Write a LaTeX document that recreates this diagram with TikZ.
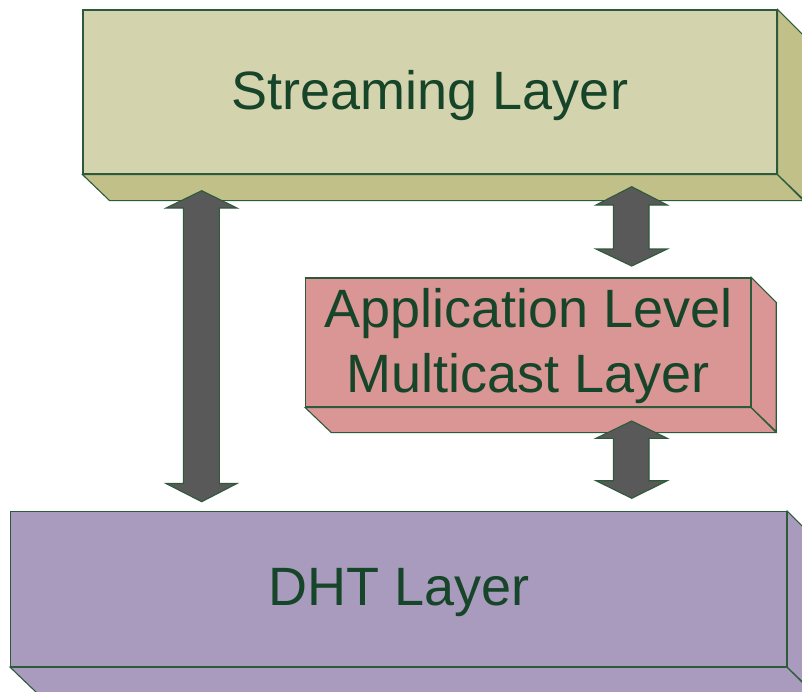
\documentclass[tikz,border=0pt]{standalone}
\usepackage{fontspec}
\setmainfont{Liberation Sans}
\begin{document}
\begin{tikzpicture}[x=1pt,y=-1pt,
  edge/.style={draw=edgegreen,line width=1.1pt,line join=miter},
  face/.style={edge,rectangle,inner sep=0pt},
  label/.style={font=\fontsize{54}{65}\selectfont,text=textgreen,align=center,inner sep=0pt},
  blockarrow/.style={edge,fill=arrowgray}]
\definecolor{edgegreen}{HTML}{2E5A3C}
\definecolor{textgreen}{HTML}{17452A}
\definecolor{arrowgray}{HTML}{595959}
\definecolor{strfront}{HTML}{D3D3AD}
\definecolor{strside}{HTML}{C0C088}
\definecolor{appfront}{HTML}{D99694}
\definecolor{appside}{HTML}{D99694}
\definecolor{dhtfront}{HTML}{A99BBD}
\definecolor{dhtside}{HTML}{A99BBD}
\useasboundingbox (0,0) rectangle (802,691);
\clip (0,0) rectangle (802,691);
% Streaming layer
\node[face,fill=strfront,minimum width=694pt,minimum height=164pt] (stream) at (430,92) {};
\node[label] (streamtext) at ([yshift=-4pt]stream.center) {Streaming Layer};
\draw[edge,fill=strside] (stream.south west) -- (stream.south east) -- ++(26,26) -- ++(-694,0) -- cycle;
\draw[edge,fill=strside] (stream.north east) -- ++(26,26) -- ++(0,164) -- (stream.south east) -- cycle;
% Application layer
\node[face,fill=appfront,minimum width=445pt,minimum height=129pt] (app) at (528.2,342.5) {};
\node[label] (apptext) at ([yshift=-4pt]app.center) {Application Level\\Multicast Layer};
\draw[edge,fill=appside] (app.south west) -- (app.south east) -- ++(25,25) -- ++(-445,0) -- cycle;
\draw[edge,fill=appside] (app.north east) -- ++(25,25) -- ++(0,129) -- (app.south east) -- cycle;
% DHT layer
\node[face,fill=dhtfront,minimum width=776pt,minimum height=155pt] (dht) at (398.7,589.2) {};
\node[label] (dhttext) at ([yshift=-3pt]dht.center) {DHT Layer};
\draw[edge,fill=dhtside] (dht.south west) -- (dht.south east) -- ++(26,26) -- ++(-776,0) -- cycle;
\draw[edge,fill=dhtside] (dht.north east) -- ++(26,26) -- ++(0,155) -- (dht.south east) -- cycle;
% Arrows
\draw[blockarrow] (201.7,190.7) -- (237,208) -- (219.3,208) -- (219.3,483.5) -- (237,483.5) -- (201.7,501.7) -- (166,483.5) -- (183.3,483.5) -- (183.3,208) -- (166,208) -- cycle;
\draw[blockarrow] (631.7,186.7) -- (667.3,205) -- (649,205) -- (649,249) -- (667.3,249) -- (631.7,266) -- (596,249) -- (613.3,249) -- (613.3,205) -- (596,205) -- cycle;
\draw[blockarrow] (631.7,421) -- (667.3,438.3) -- (649,438.3) -- (649,480.7) -- (667.3,480.7) -- (631.7,498.3) -- (596,480.7) -- (613.3,480.7) -- (613.3,438.3) -- (596,438.3) -- cycle;
\end{tikzpicture}
\end{document}
